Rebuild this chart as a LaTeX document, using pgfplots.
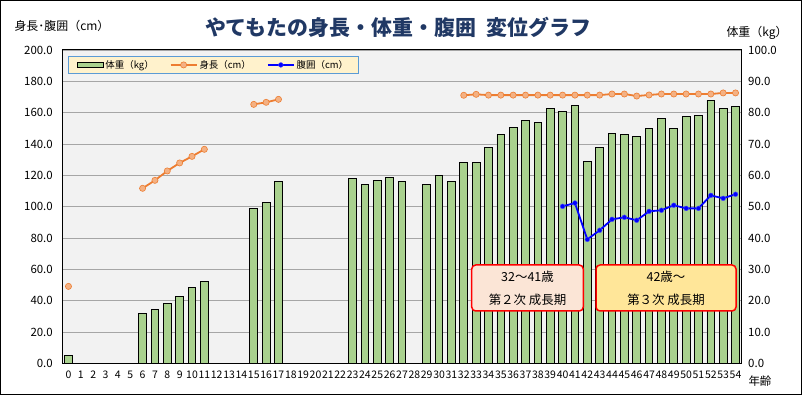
\documentclass[border=0pt]{standalone}
\usepackage{fontspec}
\setmainfont{Noto Sans CJK JP}
\usepackage{pgfplots}
\pgfplotsset{compat=1.18}
\definecolor{barfill}{HTML}{A9D18E}
\definecolor{bgcol}{HTML}{F2F2F2}
\definecolor{gridcol}{HTML}{A6A6A6}
\definecolor{hcol}{HTML}{ED7D31}
\definecolor{hmark}{HTML}{F4B183}
\definecolor{wcol}{HTML}{0000FF}
\definecolor{legfill}{HTML}{FFF2CC}
\definecolor{legdraw}{HTML}{5B9BD5}
\definecolor{titlecol}{HTML}{203864}
\definecolor{box1}{HTML}{FBE5D6}
\definecolor{box2}{HTML}{FFE699}

\pgfplotstableread{
age kg
0 2.6
6 16.0
7 17.2
8 19.1
9 21.4
10 24.3
11 26.2
15 49.5
16 51.4
17 58.1
23 58.9
24 57.1
25 58.4
26 59.4
27 58.1
29 57.1
30 60.0
31 58.1
32 64.1
33 64.1
34 68.9
35 73.1
36 75.3
37 77.6
38 76.9
39 81.4
40 80.4
41 82.3
42 64.5
43 68.9
44 73.4
45 73.1
46 72.4
47 75.0
48 78.2
49 75.0
50 78.8
51 79.1
52 83.9
53 81.4
54 82.0
}\weighttable

\pgfplotstableread{
age cm
0 49.1
1 nan
6 111.7
7 116.8
8 122.8
9 127.9
10 132.1
11 136.6
12 nan
15 165.3
16 166.6
17 168.5
18 nan
32 171.1
33 171.7
34 171.2
35 171.2
36 171.2
37 171.2
38 171.2
39 171.2
40 171.2
41 171.2
42 171.2
43 171.2
44 171.9
45 171.9
46 170.6
47 171.3
48 171.9
49 171.9
50 171.9
51 171.9
52 171.9
53 172.6
54 172.6
}\heighttable

\pgfplotstableread{
age cm
40 100.2
41 102.3
42 79.1
43 84.9
44 91.9
45 93.2
46 91.3
47 97.0
48 97.7
49 100.9
50 98.9
51 98.9
52 107.2
53 105.3
54 107.9
}\waisttable

\begin{document}
\begin{tikzpicture}
\path[use as bounding box] (0bp,0bp) rectangle (802bp,395bp);
\draw[black, line width=1bp] (0.5bp,0.5bp) rectangle (801.5bp,394.5bp);

\begin{axis}[
  at={(62.3bp,31.7bp)}, anchor=south west,
  scale only axis, width=679.4bp, height=313.3bp,
  xmin=-0.5, xmax=54.5, ymin=0, ymax=100,
  axis background/.style={fill=bgcol},
  xtick={0,...,54},
  ytick={0,10,...,100},
  ymajorgrids, grid style={gridcol, line width=0.9bp},
  major tick length=0pt,
  yticklabel pos=right,
  axis line style={black, line width=1bp},
  /pgf/number format/assume math mode=true,
  yticklabel style={font=\fontsize{11.5}{13}\selectfont, xshift=3bp, /pgf/number format/.cd, fixed, fixed zerofill, precision=1},
  xticklabel style={font=\fontsize{10.5}{12}\selectfont, yshift=-4bp},
  scaled y ticks=false,
]
\addplot[ybar, bar width=7.7bp, fill=barfill, draw=black, line width=0.9bp] table[x=age, y=kg] {\weighttable};
\end{axis}

\begin{axis}[
  at={(62.3bp,31.7bp)}, anchor=south west,
  scale only axis, width=679.4bp, height=313.3bp,
  xmin=-0.5, xmax=54.5, ymin=0, ymax=200,
  hide x axis,
  axis y line*=left,
  ytick={0,20,...,200},
  major tick length=0pt,
  axis line style={black, line width=1bp},
  /pgf/number format/assume math mode=true,
  yticklabel style={font=\fontsize{11.5}{13}\selectfont, xshift=-6bp, /pgf/number format/.cd, fixed, fixed zerofill, precision=1},
  scaled y ticks=false,
  unbounded coords=jump,
  legend columns=3,
  legend style={at={(0.0084,0.982)}, anchor=north west, fill=legfill, draw=legdraw, line width=1bp,
    font=\fontsize{9.5}{11}\selectfont, inner xsep=8bp, inner ysep=2bp,
    /tikz/every even column/.append style={column sep=14bp}},
  legend image code/.code={\draw[mark repeat=2,mark phase=2,#1] plot coordinates {(0bp,0bp) (13bp,0bp) (26bp,0bp)};},
]
\addlegendimage{legend image code/.code={\draw[fill=barfill,draw=black,line width=0.9bp] (0bp,-2.5bp) rectangle (26bp,2.5bp);}}
\addlegendentry{体重（kg）}
\addplot[hcol, line width=1.8bp, mark=*, mark size=3.1bp, mark options={fill=hmark, draw=hcol, line width=0.6bp}] table[x=age, y=cm] {\heighttable};
\addlegendentry{身長（cm）}
\addplot[wcol, line width=1.8bp, mark=*, mark size=2.4bp, mark options={fill=wcol, draw=wcol!70!white, line width=0.4bp}] table[x=age, y=cm] {\waisttable};
\addlegendentry{腹囲（cm）}
\end{axis}

% titles
\node[font=\fontsize{21}{24}\selectfont\bfseries, text=titlecol] at (398bp,367.5bp) {やてもたの身長・体重・腹囲\hspace{0.5em}変位グラフ};
\node[font=\fontsize{12}{14}\selectfont, anchor=west] at (11bp,369bp) {身長･腹囲（cm）};
\node[font=\fontsize{12}{14}\selectfont, anchor=west] at (723bp,362bp) {体重（kg）};
\node[font=\fontsize{11.5}{13}\selectfont, anchor=west] at (745bp,14bp) {年齢};

% annotation boxes
\node[draw=red, line width=1.5bp, fill=box1, rounded corners=4bp, minimum width=111.6bp, minimum height=46bp, align=center, font=\fontsize{12.5}{23}\selectfont] at (527.5bp,107bp) {32～41歳\\第２次 成長期};
\node[draw=red, line width=1.5bp, fill=box2, rounded corners=4bp, minimum width=140bp, minimum height=46bp, align=center, font=\fontsize{12.5}{23}\selectfont] at (666bp,107bp) {42歳～\\第３次 成長期};
\end{tikzpicture}
\end{document}
